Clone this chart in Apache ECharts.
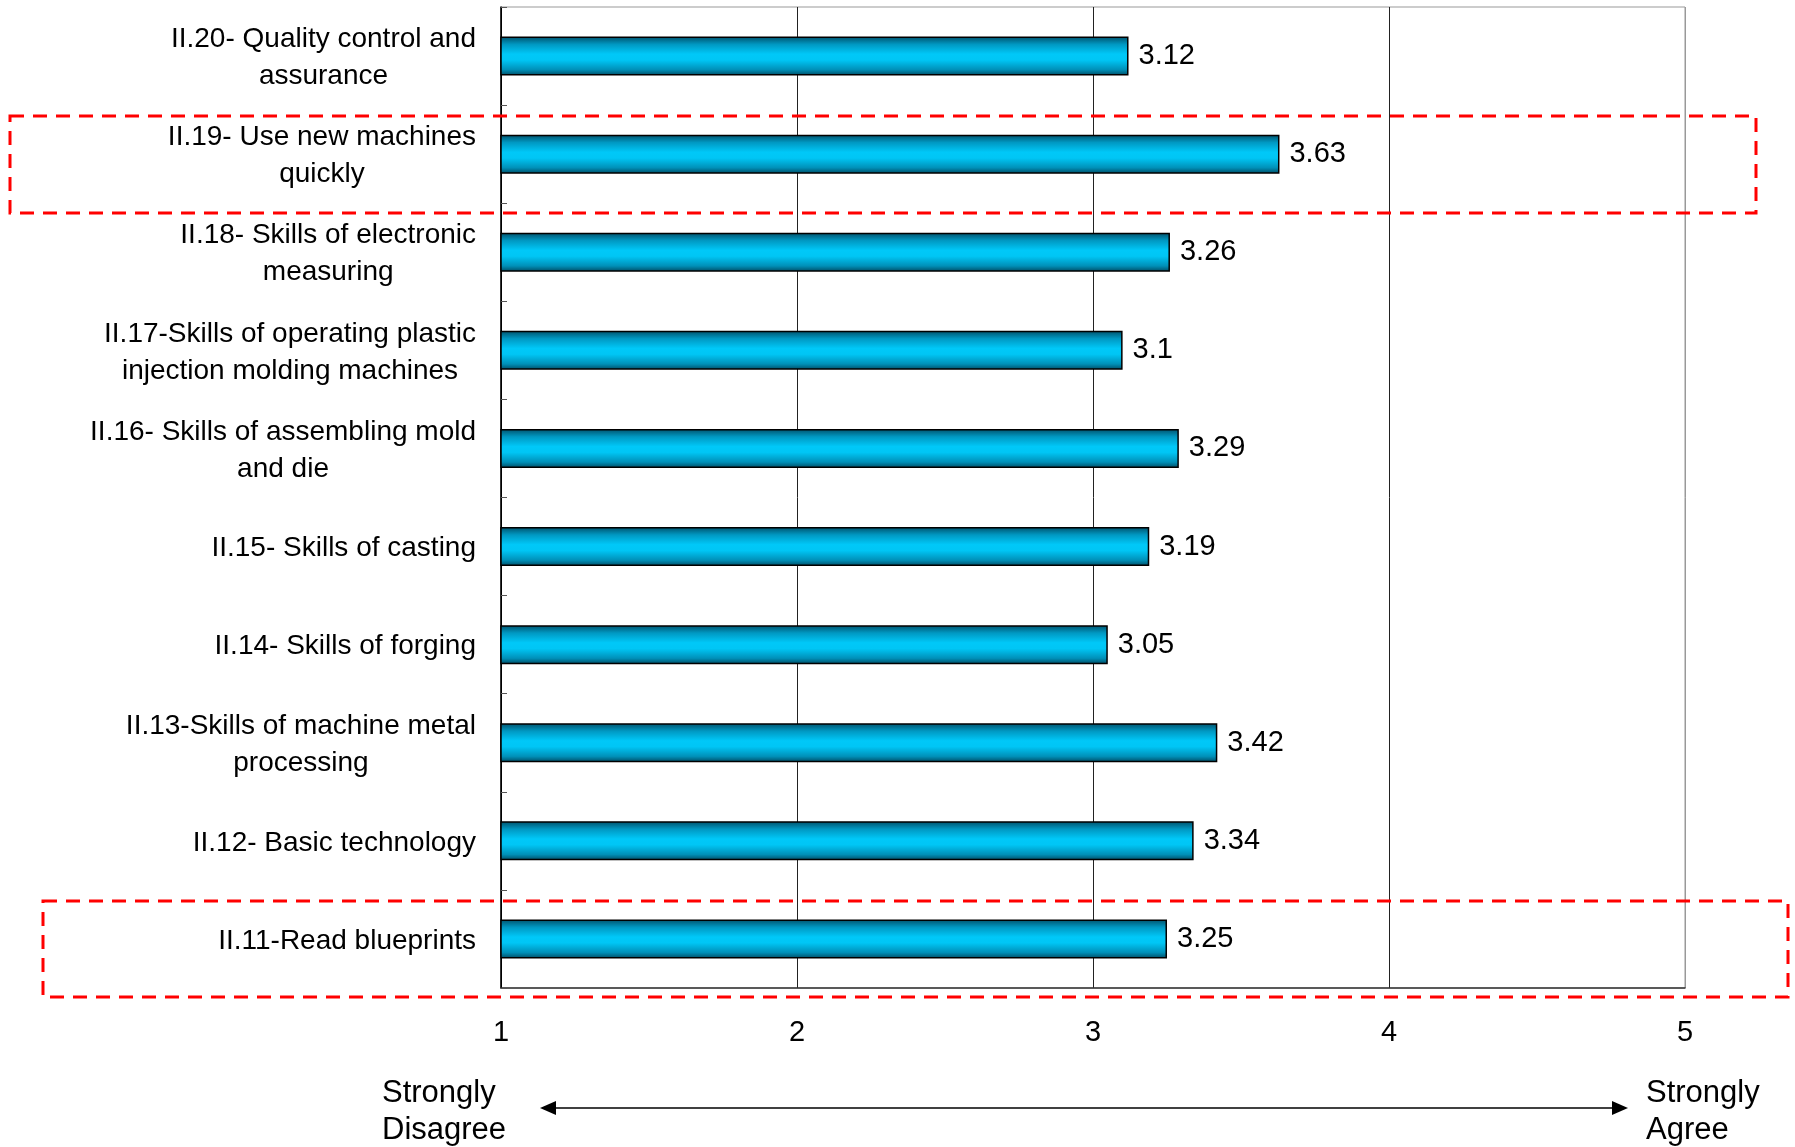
<!DOCTYPE html>
<html>
<head>
<meta charset="utf-8">
<script src="https://cdn.jsdelivr.net/npm/echarts@6/dist/echarts.min.js"></script>
<style>
html,body{margin:0;padding:0;background:#fff;}
#chart{width:1795px;height:1147px;}
</style>
</head>
<body>
<div id="chart"></div>
<script>
const categories = [
  'II.11-Read blueprints',
  'II.12- Basic technology',
  'II.13-Skills of machine metal\nprocessing',
  'II.14- Skills of forging',
  'II.15- Skills of casting',
  'II.16- Skills of assembling mold\nand die',
  'II.17-Skills of operating plastic\ninjection molding machines',
  'II.18- Skills of electronic\nmeasuring',
  'II.19- Use new machines\nquickly',
  'II.20- Quality control and\nassurance'
];
const values = [3.25, 3.34, 3.42, 3.05, 3.19, 3.29, 3.1, 3.26, 3.63, 3.12];
const xTicks = [1, 2, 3, 4, 5];
const leftNote = 'Strongly\nDisagree';
const rightNote = 'Strongly\nAgree';

const FONT = '"Liberation Sans", Arial, sans-serif';
const chart = echarts.init(document.getElementById('chart'));

const gridL = 501, gridT = 7, gridW = 1184, gridH = 981;

const option = {
  backgroundColor: '#fff',
  animation: false,
  grid: {left: gridL, top: gridT, width: gridW, height: gridH, show: true, borderColor: '#999', borderWidth: 1},
  xAxis: {
    type: 'value', min: xTicks[0], max: xTicks[xTicks.length - 1], interval: 1,
    axisLine: {show: true, lineStyle: {color: '#333', width: 1.5}},
    axisTick: {show: false},
    axisLabel: {margin: 30, color: '#000', fontSize: 29, fontFamily: FONT},
    splitLine: {show: true, lineStyle: {color: ['#000', '#222', '#222', '#222', '#999'], width: 1}}
  },
  yAxis: {
    type: 'category', data: categories,
    axisLine: {show: true, lineStyle: {color: '#000', width: 1.5}},
    axisTick: {show: true, inside: true, length: 6, lineStyle: {color: '#555'}},
    axisLabel: {
      margin: 25, color: '#000', fontSize: 28, fontFamily: FONT, lineHeight: 37,
      formatter: v => v.split('\n').map(s => '{c|' + s + '}').join('\n'),
      rich: {c: {align: 'center', fontSize: 28, lineHeight: 37, fontFamily: FONT, color: '#000', padding: [4, 0, 0, 0]}}
    },
    splitLine: {show: false}
  },
  series: [{
    type: 'bar', data: values, barWidth: 39,
    itemStyle: {
      borderColor: '#000', borderWidth: 1.5,
      color: new echarts.graphic.LinearGradient(0, 0, 0, 1, [
        {offset: 0, color: '#00506a'},
        {offset: 0.2, color: '#0098c2'},
        {offset: 0.45, color: '#00c8f8'},
        {offset: 0.6, color: '#00c6f5'},
        {offset: 0.85, color: '#0090b8'},
        {offset: 1, color: '#004a62'}
      ])
    },
    label: {show: true, position: 'right', distance: 10, color: '#000', fontSize: 29, fontFamily: FONT}
  }],
  graphic: [
    {type: 'text', left: 382, top: 1075, z: 10,
     style: {text: leftNote, fontSize: 31, lineHeight: 37, fontFamily: FONT, fill: '#000'}},
    {type: 'text', left: 1646, top: 1075, z: 10,
     style: {text: rightNote, fontSize: 31, lineHeight: 37, fontFamily: FONT, fill: '#000'}},
    {type: 'line', z: 10, shape: {x1: 552, y1: 1108, x2: 1616, y2: 1108}, style: {stroke: '#000', lineWidth: 1.5}},
    {type: 'polygon', z: 10, shape: {points: [[540, 1108], [556, 1101], [556, 1115]]}, style: {fill: '#000'}},
    {type: 'polygon', z: 10, shape: {points: [[1628, 1108], [1612, 1101], [1612, 1115]]}, style: {fill: '#000'}},
    {type: 'rect', z: 20, shape: {x: 10, y: 116, width: 1746, height: 97},
     style: {fill: 'none', stroke: '#ff0000', lineWidth: 3, lineDash: [14, 9]}},
    {type: 'rect', z: 20, shape: {x: 43, y: 901, width: 1745, height: 96},
     style: {fill: 'none', stroke: '#ff0000', lineWidth: 3, lineDash: [14, 9]}}
  ]
};
chart.setOption(option);
</script>
</body>
</html>
